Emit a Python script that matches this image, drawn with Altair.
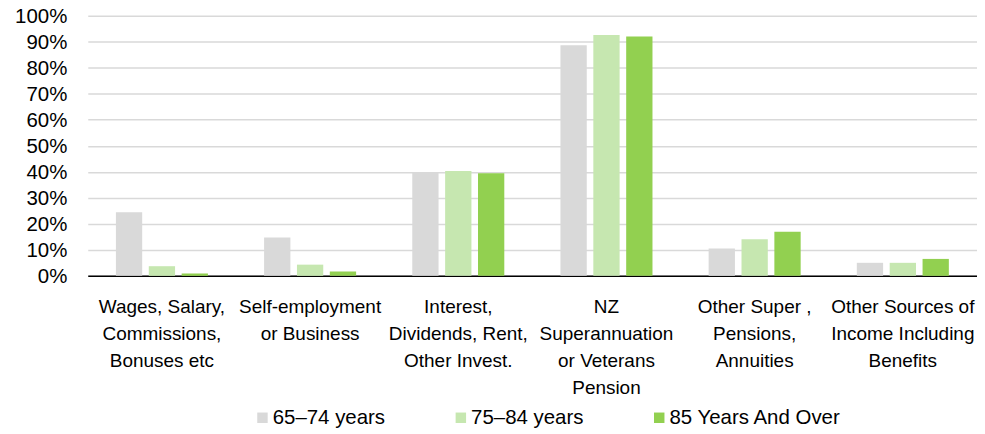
import altair as alt
import pandas as pd

categories = [
    "Wages, Salary,|Commissions,|Bonuses etc",
    "Self-employment|or Business",
    "Interest,|Dividends, Rent,|Other Invest.",
    "NZ|Superannuation|or Veterans|Pension",
    "Other Super ,|Pensions,|Annuities",
    "Other Sources of|Income Including|Benefits",
]
age_groups = ["65–74 years", "75–84 years", "85 Years And Over"]
v_65_74 = [24.4, 14.7, 39.5, 88.6, 10.5, 5.0]
v_75_84 = [3.7, 4.3, 40.3, 92.6, 14.1, 5.0]
v_85_plus = [0.9, 1.7, 39.4, 92.0, 16.9, 6.5]
colors = ["#d9d9d9", "#c6e7b0", "#92d050"]
y_ticks = [0, 0.1, 0.2, 0.3, 0.4, 0.5, 0.6, 0.7, 0.8, 0.9, 1.0]

rows = []
for grp, vals in zip(age_groups, [v_65_74, v_75_84, v_85_plus]):
    for cat, v in zip(categories, vals):
        rows.append({"category": cat, "group": grp, "value": v / 100})
df = pd.DataFrame(rows)

chart = alt.Chart(df).mark_bar().encode(
    x=alt.X(
        "category:N",
        sort=categories,
        scale=alt.Scale(paddingInner=0.379, paddingOuter=0.19),
        axis=alt.Axis(
            title=None,
            labelExpr="split(datum.label, '|')",
            labelAngle=0,
            labelFontSize=19,
            labelLineHeight=27,
            labelPadding=22,
            labelColor="#000000",
            labelOverlap=False,
            labelLimit=300,
            ticks=False,
            domainColor="#000000",
            domainWidth=1.5,
            grid=False,
        ),
    ),
    xOffset=alt.XOffset(
        "group:N", sort=age_groups, scale=alt.Scale(paddingInner=0.2, paddingOuter=0)
    ),
    y=alt.Y(
        "value:Q",
        scale=alt.Scale(domain=[0, 1], nice=False),
        axis=alt.Axis(
            title=None,
            format=".0%",
            values=y_ticks,
            domain=False,
            ticks=False,
            gridColor="#d9d9d9",
            gridWidth=1.5,
            labelFontSize=20.5,
            labelColor="#000000",
            labelPadding=21,
            labelOffset=1,
        ),
    ),
    color=alt.Color(
        "group:N",
        sort=age_groups,
        scale=alt.Scale(domain=age_groups, range=colors),
        legend=alt.Legend(
            title=None,
            orient="none",
            legendX=165,
            legendY=393,
            direction="horizontal",
            columns=3,
            symbolType="square",
            symbolSize=110,
            symbolStrokeWidth=0,
            labelFontSize=20.5,
            labelColor="#000000",
            labelLimit=300,
            labelOffset=0,
            columnPadding=65,
        ),
    ),
).properties(
    width=892,
    height=261,
    autosize=alt.AutoSizeParams(type="none"),
    padding={"left": 80, "top": 7, "right": 0, "bottom": 157},
).configure(font="Liberation Sans").configure_view(stroke=None)

chart.save("out.html", embed_options={"renderer": "svg", "actions": False})
